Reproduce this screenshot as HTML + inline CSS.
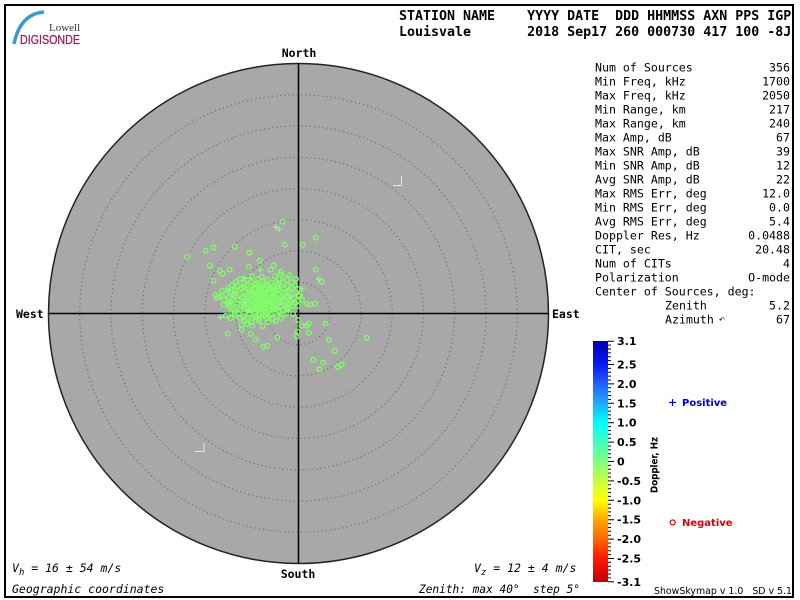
<!DOCTYPE html>
<html>
<head>
<meta charset="utf-8">
<style>
  html,body{margin:0;padding:0;background:#fff;}
  svg{display:block;}
  .mono{font-family:"DejaVu Sans Mono","Liberation Mono",monospace;}
  .sans{font-family:"DejaVu Sans","Liberation Sans",sans-serif;}
</style>
</head>
<body>
<svg width="800" height="600" viewBox="0 0 800 600" xmlns="http://www.w3.org/2000/svg">
  <defs>
    <linearGradient id="cb" x1="0" y1="0" x2="0" y2="1">
      <stop offset="0" stop-color="#0000a8"/>
      <stop offset="0.097" stop-color="#0818f8"/>
      <stop offset="0.177" stop-color="#2060ff"/>
      <stop offset="0.258" stop-color="#20a8ff"/>
      <stop offset="0.339" stop-color="#00ffff"/>
      <stop offset="0.419" stop-color="#40ffc0"/>
      <stop offset="0.5" stop-color="#80ff80"/>
      <stop offset="0.581" stop-color="#c8ff40"/>
      <stop offset="0.661" stop-color="#ffff00"/>
      <stop offset="0.742" stop-color="#ffa800"/>
      <stop offset="0.823" stop-color="#ff6400"/>
      <stop offset="0.903" stop-color="#ff1800"/>
      <stop offset="1" stop-color="#c00000"/>
    </linearGradient>
  </defs>

  <rect x="0" y="0" width="800" height="600" fill="#fff"/>
  <!-- frame -->
  <rect x="5" y="5" width="788" height="592" fill="none" stroke="#000" stroke-width="2"/>

  <!-- logo -->
  <path d="M44 12 Q20 14 14 44" fill="none" stroke="#3a9ccc" stroke-width="3.5"/>
  <text x="49" y="31" font-family="'Liberation Serif',serif" font-size="11" fill="#333">Lowell</text>
  <text x="20" y="44" font-family="'Liberation Sans',sans-serif" font-size="13" fill="#9c1f5a" stroke="#9c1f5a" stroke-width="0.3" textLength="60" lengthAdjust="spacingAndGlyphs">DIGISONDE</text>

  <!-- header -->
  <text class="mono" x="399" y="20" font-size="13.3" font-weight="bold" xml:space="preserve">STATION NAME    YYYY DATE  DDD HHMMSS AXN PPS IGP</text>
  <text class="mono" x="399" y="36" font-size="13.3" font-weight="bold" xml:space="preserve">Louisvale       2018 Sep17 260 000730 417 100 -8J</text>

  <!-- sky map -->
  <circle cx="298.5" cy="313.5" r="250" fill="#a8a8a8" stroke="#222" stroke-width="1.5"/>
  <g fill="none" stroke="#6e6e6e" stroke-width="1.1" stroke-dasharray="1.2 3">
    <circle cx="298.5" cy="313.5" r="31.25"/>
    <circle cx="298.5" cy="313.5" r="62.5"/>
    <circle cx="298.5" cy="313.5" r="93.75"/>
    <circle cx="298.5" cy="313.5" r="125"/>
    <circle cx="298.5" cy="313.5" r="156.25"/>
    <circle cx="298.5" cy="313.5" r="187.5"/>
    <circle cx="298.5" cy="313.5" r="218.75"/>
  </g>
  <line x1="298.5" y1="63.5" x2="298.5" y2="563.5" stroke="#000" stroke-width="1.5"/>
  <line x1="48.5" y1="313.5" x2="548.5" y2="313.5" stroke="#000" stroke-width="1.5"/>

  <!-- small marks -->
  <path d="M401.5 176 V185.5 H393" fill="none" stroke="#e8e8e8" stroke-width="1"/>
  <path d="M204 443 V451.5 H195" fill="none" stroke="#e8e8e8" stroke-width="1"/>

  <!-- cardinal labels -->
  <text class="mono" x="299" y="57" font-size="11.5" font-weight="bold" text-anchor="middle">North</text>
  <text class="mono" x="298" y="578" font-size="11.5" font-weight="bold" text-anchor="middle">South</text>
  <text class="mono" x="16" y="318" font-size="11.5" font-weight="bold">West</text>
  <text class="mono" x="552" y="318" font-size="11.5" font-weight="bold">East</text>

  <!-- data points: circles -->
  <g fill="none" stroke="#80ff66" stroke-width="1.3">
    <circle cx="282.7" cy="221.7" r="2.3"/>
    <circle cx="315.7" cy="237.7" r="2.3"/>
    <circle cx="284.7" cy="244.7" r="2.3"/>
    <circle cx="302.7" cy="244.7" r="2.3"/>
    <circle cx="187.3" cy="256.7" r="2.3"/>
    <circle cx="205.7" cy="250.7" r="2.3"/>
    <circle cx="213.7" cy="247.7" r="2.3"/>
    <circle cx="234.7" cy="246.7" r="2.3"/>
    <circle cx="249.7" cy="252.7" r="2.3"/>
    <circle cx="259.7" cy="260.7" r="2.3"/>
    <circle cx="209.7" cy="265.7" r="2.3"/>
    <circle cx="219.7" cy="270.7" r="2.3"/>
    <circle cx="222.7" cy="273.7" r="2.3"/>
    <circle cx="229.7" cy="269.7" r="2.3"/>
    <circle cx="248.7" cy="266.7" r="2.3"/>
    <circle cx="273.7" cy="265.7" r="2.3"/>
    <circle cx="270.7" cy="269.7" r="2.3"/>
    <circle cx="280.7" cy="271.7" r="2.3"/>
    <circle cx="280.7" cy="274.7" r="2.3"/>
    <circle cx="315.7" cy="269.7" r="2.3"/>
    <circle cx="213.7" cy="280.7" r="2.3"/>
    <circle cx="321.7" cy="281.7" r="2.3"/>
    <circle cx="215.3" cy="294.7" r="2.3"/>
    <circle cx="216.7" cy="297.7" r="2.3"/>
    <circle cx="221.7" cy="295.7" r="2.3"/>
    <circle cx="227.7" cy="290.7" r="2.3"/>
    <circle cx="234.7" cy="290.7" r="2.3"/>
    <circle cx="223.7" cy="304.7" r="2.3"/>
    <circle cx="228.7" cy="303.7" r="2.3"/>
    <circle cx="315" cy="303.7" r="2.3"/>
    <circle cx="306.7" cy="303.7" r="2.3"/>
    <circle cx="310" cy="304.7" r="2.3"/>
    <circle cx="225.7" cy="315.7" r="2.3"/>
    <circle cx="230.7" cy="318.3" r="2.3"/>
    <circle cx="234.3" cy="313.7" r="2.3"/>
    <circle cx="241.7" cy="325" r="2.3"/>
    <circle cx="241.7" cy="329.7" r="2.3"/>
    <circle cx="246.7" cy="324" r="2.3"/>
    <circle cx="252.3" cy="325.7" r="2.3"/>
    <circle cx="262.7" cy="326" r="2.3"/>
    <circle cx="227.7" cy="333.7" r="2.3"/>
    <circle cx="250.7" cy="334" r="2.3"/>
    <circle cx="255.7" cy="339.7" r="2.3"/>
    <circle cx="277.3" cy="337.7" r="2.3"/>
    <circle cx="263.7" cy="346.7" r="2.3"/>
    <circle cx="267.3" cy="345.7" r="2.3"/>
    <circle cx="296.7" cy="336.7" r="2.3"/>
    <circle cx="297.7" cy="331.7" r="2.3"/>
    <circle cx="308.7" cy="332.7" r="2.3"/>
    <circle cx="301.3" cy="325.7" r="2.3"/>
    <circle cx="306.7" cy="325.7" r="2.3"/>
    <circle cx="308.7" cy="323.7" r="2.3"/>
    <circle cx="298" cy="320" r="2.3"/>
    <circle cx="325.7" cy="323.7" r="2.3"/>
    <circle cx="328.7" cy="339.7" r="2.3"/>
    <circle cx="366.7" cy="337.7" r="2.3"/>
    <circle cx="334.7" cy="350.7" r="2.3"/>
    <circle cx="313.3" cy="359.7" r="2.3"/>
    <circle cx="323.3" cy="362.7" r="2.3"/>
    <circle cx="319.3" cy="369" r="2.3"/>
    <circle cx="337.7" cy="366.7" r="2.3"/>
    <circle cx="341.7" cy="364.7" r="2.3"/>
    <circle cx="300" cy="296" r="2.3"/>
    <circle cx="302" cy="300" r="2.3"/>
    <circle cx="298" cy="306" r="2.3"/>
    <circle cx="293" cy="314" r="2.3"/>
    <circle cx="288" cy="310" r="2.3" fill="#80ff66"/>
    <!-- dense cluster -->
    <circle cx="252" cy="276" r="2.3"/><circle cx="262" cy="277" r="2.3"/><circle cx="275" cy="276" r="2.3"/><circle cx="284" cy="277" r="2.3"/><circle cx="290" cy="275" r="2.3"/>
    <circle cx="240" cy="279" r="2.3"/><circle cx="248" cy="280" r="2.3"/><circle cx="258" cy="279" r="2.3"/><circle cx="268" cy="280" r="2.3"/><circle cx="279" cy="279" r="2.3"/><circle cx="287" cy="280" r="2.3"/><circle cx="296" cy="279" r="2.3"/>
    <circle cx="236" cy="282" r="2.3"/><circle cx="244" cy="283" r="2.3"/><circle cx="251" cy="282" r="2.3"/><circle cx="257" cy="283" r="2.3"/><circle cx="264" cy="282" r="2.3"/><circle cx="271" cy="283" r="2.3"/><circle cx="276" cy="282" r="2.3"/><circle cx="283" cy="283" r="2.3"/><circle cx="292" cy="282" r="2.3"/>
    <circle cx="232" cy="285" r="2.3"/><circle cx="238" cy="286" r="2.3"/><circle cx="246" cy="285" r="2.3"/><circle cx="253" cy="286" r="2.3"/><circle cx="259" cy="285" r="2.3"/><circle cx="263" cy="286" r="2.3"/><circle cx="268" cy="285" r="2.3"/><circle cx="274" cy="286" r="2.3"/><circle cx="280" cy="285" r="2.3"/><circle cx="288" cy="286" r="2.3"/><circle cx="295" cy="285" r="2.3"/>
    <circle cx="228" cy="288" r="2.3"/><circle cx="235" cy="289" r="2.3"/><circle cx="241" cy="288" r="2.3"/><circle cx="249" cy="289" r="2.3"/><circle cx="255" cy="288" r="2.3"/><circle cx="260" cy="289" r="2.3"/><circle cx="265" cy="288" r="2.3"/><circle cx="270" cy="289" r="2.3"/><circle cx="277" cy="288" r="2.3"/><circle cx="284" cy="289" r="2.3"/><circle cx="291" cy="288" r="2.3"/><circle cx="298" cy="289" r="2.3"/>
    <circle cx="222" cy="291" r="2.3"/><circle cx="231" cy="292" r="2.3"/><circle cx="238" cy="291" r="2.3"/><circle cx="244" cy="292" r="2.3"/><circle cx="250" cy="291" r="2.3"/><circle cx="254" cy="292" r="2.3"/><circle cx="258" cy="291" r="2.3"/><circle cx="262" cy="292" r="2.3"/><circle cx="267" cy="291" r="2.3"/><circle cx="272" cy="292" r="2.3"/><circle cx="276" cy="291" r="2.3"/><circle cx="282" cy="292" r="2.3"/><circle cx="289" cy="291" r="2.3"/><circle cx="296" cy="292" r="2.3"/>
    <circle cx="226" cy="294" r="2.3"/><circle cx="234" cy="295" r="2.3"/><circle cx="240" cy="294" r="2.3"/><circle cx="246" cy="295" r="2.3"/><circle cx="251" cy="294" r="2.3"/><circle cx="256" cy="295" r="2.3"/><circle cx="260" cy="294" r="2.3"/><circle cx="264" cy="295" r="2.3"/><circle cx="268" cy="294" r="2.3"/><circle cx="273" cy="295" r="2.3"/><circle cx="279" cy="294" r="2.3"/><circle cx="285" cy="295" r="2.3"/><circle cx="292" cy="294" r="2.3"/><circle cx="299" cy="295" r="2.3"/>
    <circle cx="219" cy="297" r="2.3"/><circle cx="229" cy="298" r="2.3"/><circle cx="236" cy="297" r="2.3"/><circle cx="243" cy="298" r="2.3"/><circle cx="248" cy="297" r="2.3"/><circle cx="253" cy="298" r="2.3"/><circle cx="257" cy="297" r="2.3"/><circle cx="261" cy="298" r="2.3"/><circle cx="265" cy="297" r="2.3"/><circle cx="270" cy="298" r="2.3"/><circle cx="275" cy="297" r="2.3"/><circle cx="281" cy="298" r="2.3"/><circle cx="287" cy="297" r="2.3"/><circle cx="294" cy="298" r="2.3"/>
    <circle cx="224" cy="300" r="2.3"/><circle cx="231" cy="301" r="2.3"/><circle cx="238" cy="300" r="2.3"/><circle cx="245" cy="301" r="2.3"/><circle cx="250" cy="300" r="2.3"/><circle cx="255" cy="301" r="2.3"/><circle cx="259" cy="300" r="2.3"/><circle cx="263" cy="301" r="2.3"/><circle cx="268" cy="300" r="2.3"/><circle cx="272" cy="301" r="2.3"/><circle cx="278" cy="300" r="2.3"/><circle cx="284" cy="301" r="2.3"/><circle cx="290" cy="300" r="2.3"/><circle cx="297" cy="301" r="2.3"/>
    <circle cx="230" cy="303" r="2.3"/><circle cx="237" cy="304" r="2.3"/><circle cx="243" cy="303" r="2.3"/><circle cx="249" cy="304" r="2.3"/><circle cx="254" cy="303" r="2.3"/><circle cx="258" cy="304" r="2.3"/><circle cx="262" cy="303" r="2.3"/><circle cx="267" cy="304" r="2.3"/><circle cx="271" cy="303" r="2.3"/><circle cx="276" cy="304" r="2.3"/><circle cx="282" cy="303" r="2.3"/><circle cx="288" cy="304" r="2.3"/><circle cx="295" cy="303" r="2.3"/>
    <circle cx="228" cy="306" r="2.3"/><circle cx="235" cy="307" r="2.3"/><circle cx="241" cy="306" r="2.3"/><circle cx="247" cy="307" r="2.3"/><circle cx="252" cy="306" r="2.3"/><circle cx="257" cy="307" r="2.3"/><circle cx="261" cy="306" r="2.3"/><circle cx="266" cy="307" r="2.3"/><circle cx="270" cy="306" r="2.3"/><circle cx="275" cy="307" r="2.3"/><circle cx="281" cy="306" r="2.3"/><circle cx="287" cy="307" r="2.3"/><circle cx="293" cy="306" r="2.3"/>
    <circle cx="233" cy="309" r="2.3"/><circle cx="240" cy="310" r="2.3"/><circle cx="246" cy="309" r="2.3"/><circle cx="251" cy="310" r="2.3"/><circle cx="256" cy="309" r="2.3"/><circle cx="260" cy="310" r="2.3"/><circle cx="265" cy="309" r="2.3"/><circle cx="270" cy="310" r="2.3"/><circle cx="276" cy="309" r="2.3"/><circle cx="283" cy="310" r="2.3"/>
    <circle cx="231" cy="312" r="2.3"/><circle cx="238" cy="313" r="2.3"/><circle cx="244" cy="312" r="2.3"/><circle cx="250" cy="313" r="2.3"/><circle cx="256" cy="312" r="2.3"/><circle cx="261" cy="313" r="2.3"/><circle cx="266" cy="312" r="2.3"/><circle cx="272" cy="313" r="2.3"/><circle cx="279" cy="312" r="2.3"/><circle cx="286" cy="313" r="2.3"/>
    <circle cx="236" cy="315" r="2.3"/><circle cx="243" cy="316" r="2.3"/><circle cx="249" cy="315" r="2.3"/><circle cx="255" cy="316" r="2.3"/><circle cx="260" cy="315" r="2.3"/><circle cx="265" cy="316" r="2.3"/><circle cx="271" cy="315" r="2.3"/><circle cx="277" cy="316" r="2.3"/><circle cx="284" cy="315" r="2.3"/>
    <circle cx="240" cy="318" r="2.3"/><circle cx="247" cy="319" r="2.3"/><circle cx="253" cy="318" r="2.3"/><circle cx="259" cy="319" r="2.3"/><circle cx="266" cy="318" r="2.3"/><circle cx="273" cy="319" r="2.3"/><circle cx="281" cy="318" r="2.3"/>
    <circle cx="245" cy="321" r="2.3"/><circle cx="252" cy="322" r="2.3"/><circle cx="259" cy="321" r="2.3"/><circle cx="268" cy="322" r="2.3"/><circle cx="276" cy="321" r="2.3"/>
    <!-- extra core density -->
    <circle cx="255" cy="284" r="2.3"/><circle cx="261" cy="287" r="2.3"/><circle cx="266" cy="284" r="2.3"/><circle cx="272" cy="287" r="2.3"/><circle cx="278" cy="284" r="2.3"/>
    <circle cx="252" cy="290" r="2.3"/><circle cx="256" cy="293" r="2.3"/><circle cx="260" cy="290" r="2.3"/><circle cx="264" cy="293" r="2.3"/><circle cx="269" cy="290" r="2.3"/><circle cx="274" cy="293" r="2.3"/><circle cx="279" cy="290" r="2.3"/>
    <circle cx="250" cy="296" r="2.3"/><circle cx="254" cy="299" r="2.3"/><circle cx="258" cy="296" r="2.3"/><circle cx="262" cy="299" r="2.3"/><circle cx="266" cy="296" r="2.3"/><circle cx="270" cy="299" r="2.3"/><circle cx="274" cy="296" r="2.3"/><circle cx="279" cy="299" r="2.3"/><circle cx="284" cy="297" r="2.3"/>
    <circle cx="251" cy="302" r="2.3"/><circle cx="256" cy="305" r="2.3"/><circle cx="260" cy="302" r="2.3"/><circle cx="264" cy="305" r="2.3"/><circle cx="269" cy="302" r="2.3"/><circle cx="273" cy="305" r="2.3"/><circle cx="279" cy="302" r="2.3"/><circle cx="285" cy="305" r="2.3"/>
    <circle cx="253" cy="308" r="2.3"/><circle cx="258" cy="311" r="2.3"/><circle cx="263" cy="308" r="2.3"/><circle cx="268" cy="311" r="2.3"/><circle cx="273" cy="308" r="2.3"/><circle cx="279" cy="311" r="2.3"/>
    <circle cx="244" cy="287" r="2.3"/><circle cx="242" cy="297" r="2.3"/><circle cx="244" cy="306" r="2.3"/><circle cx="286" cy="292" r="2.3"/><circle cx="291" cy="302" r="2.3"/>
    <circle cx="263" cy="314" r="2.3"/><circle cx="269" cy="316" r="2.3"/><circle cx="256" cy="317" r="2.3"/>
  </g>
  <!-- data points: plus markers -->
  <g fill="none" stroke="#8cff8c" stroke-width="1.1">
    <path d="M272.7 227.3h6M275.7 224.3v6"/>
    <path d="M276.3 229.3h6M279.3 226.3v6"/>
    <path d="M241.3 277.7h6M244.3 274.7v6"/>
    <path d="M257.3 270h6M260.3 267v6"/>
    <path d="M315.3 279h6M318.3 276v6"/>
    <path d="M229.3 294h6M232.3 291v6"/>
    <path d="M299 289h6M302 286v6"/>
    <path d="M217.3 317.3h6M220.3 314.3v6"/>
    <path d="M242 302h6M245 299v6"/>
    <path d="M288 297h6M291 294v6"/>
    <path d="M246 310h6M249 307v6"/>
  </g>

  <!-- stats -->
  <g class="mono" font-size="11.6" fill="#000">
    <text x="595" y="71.5">Num of Sources</text><text x="790" y="71.5" text-anchor="end">356</text>
    <text x="595" y="85.5">Min Freq, kHz</text><text x="790" y="85.5" text-anchor="end">1700</text>
    <text x="595" y="99.5">Max Freq, kHz</text><text x="790" y="99.5" text-anchor="end">2050</text>
    <text x="595" y="113.5">Min Range, km</text><text x="790" y="113.5" text-anchor="end">217</text>
    <text x="595" y="127.5">Max Range, km</text><text x="790" y="127.5" text-anchor="end">240</text>
    <text x="595" y="141.5">Max Amp, dB</text><text x="790" y="141.5" text-anchor="end">67</text>
    <text x="595" y="155.5">Max SNR Amp, dB</text><text x="790" y="155.5" text-anchor="end">39</text>
    <text x="595" y="169.5">Min SNR Amp, dB</text><text x="790" y="169.5" text-anchor="end">12</text>
    <text x="595" y="183.5">Avg SNR Amp, dB</text><text x="790" y="183.5" text-anchor="end">22</text>
    <text x="595" y="197.5">Max RMS Err, deg</text><text x="790" y="197.5" text-anchor="end">12.0</text>
    <text x="595" y="211.5">Min RMS Err, deg</text><text x="790" y="211.5" text-anchor="end">0.0</text>
    <text x="595" y="225.5">Avg RMS Err, deg</text><text x="790" y="225.5" text-anchor="end">5.4</text>
    <text x="595" y="239.5">Doppler Res, Hz</text><text x="790" y="239.5" text-anchor="end">0.0488</text>
    <text x="595" y="253.5">CIT, sec</text><text x="790" y="253.5" text-anchor="end">20.48</text>
    <text x="595" y="267.5">Num of CITs</text><text x="790" y="267.5" text-anchor="end">4</text>
    <text x="595" y="281.5">Polarization</text><text x="790" y="281.5" text-anchor="end">O-mode</text>
    <text x="595" y="295.5">Center of Sources, deg:</text>
    <text x="665" y="309.5">Zenith</text><text x="790" y="309.5" text-anchor="end">5.2</text>
    <text x="665" y="323.5">Azimuth</text><text x="790" y="323.5" text-anchor="end">67</text>
  </g>
  <text x="719" y="322" font-family="'DejaVu Sans',sans-serif" font-size="7" fill="#000">↶</text>

  <!-- colorbar -->
  <rect x="593" y="341" width="15" height="241" fill="url(#cb)"/>
  <path fill="none" stroke="#000" stroke-width="1" d="
M608 341.2h6M608 345.1h3M608 349.0h3M608 352.9h3M608 356.7h3M608 360.6h3
M608 364.5h6M608 368.4h3M608 372.3h3M608 376.1h3M608 380.0h3
M608 383.9h6M608 387.8h3M608 391.7h3M608 395.5h3M608 399.4h3
M608 403.3h6M608 407.2h3M608 411.1h3M608 414.9h3M608 418.8h3
M608 422.7h6M608 426.6h3M608 430.5h3M608 434.3h3M608 438.2h3
M608 442.1h6M608 446.0h3M608 449.9h3M608 453.7h3M608 457.6h3
M608 461.5h6M608 465.4h3M608 469.3h3M608 473.1h3M608 477.0h3
M608 480.9h6M608 484.8h3M608 488.7h3M608 492.5h3M608 496.4h3
M608 500.3h6M608 504.2h3M608 508.1h3M608 511.9h3M608 515.8h3
M608 519.7h6M608 523.6h3M608 527.5h3M608 531.3h3M608 535.2h3
M608 539.1h6M608 543.0h3M608 546.9h3M608 550.7h3M608 554.6h3
M608 558.5h6M608 562.4h3M608 566.3h3M608 570.1h3M608 574.0h3M608 577.9h3
M608 581.8h6"/>
  <g class="sans" font-size="11" font-weight="bold" fill="#000">
    <text x="617" y="345.2">3.1</text>
    <text x="617" y="368.5">2.5</text>
    <text x="617" y="387.9">2.0</text>
    <text x="617" y="407.3">1.5</text>
    <text x="617" y="426.7">1.0</text>
    <text x="617" y="446.1">0.5</text>
    <text x="617" y="465.5">0</text>
    <text x="617" y="484.9">-0.5</text>
    <text x="617" y="504.3">-1.0</text>
    <text x="617" y="523.7">-1.5</text>
    <text x="617" y="543.1">-2.0</text>
    <text x="617" y="562.5">-2.5</text>
    <text x="617" y="585.8">-3.1</text>
  </g>
  <text class="sans" transform="translate(657.5,465) rotate(-90)" font-size="9.5" font-weight="bold" text-anchor="middle" textLength="56" lengthAdjust="spacingAndGlyphs">Doppler, Hz</text>

  <!-- legend -->
  <path d="M669 402.5h7M672.5 399v7" stroke="#0000e0" stroke-width="1.2" fill="none"/>
  <text class="sans" x="682" y="406" font-size="10" font-weight="bold" fill="#0000e0">Positive</text>
  <circle cx="672.7" cy="522.5" r="2.5" fill="none" stroke="#e00000" stroke-width="1.2"/>
  <text class="sans" x="682" y="526" font-size="10" font-weight="bold" fill="#e00000">Negative</text>

  <text class="sans" x="654" y="594" font-size="9.5" fill="#000" textLength="138" lengthAdjust="spacingAndGlyphs" xml:space="preserve">ShowSkymap v 1.0   SD v 5.1</text>

  <!-- bottom annotations -->
  <g class="mono" font-size="11.5" font-style="italic" fill="#000">
    <text x="12" y="572" xml:space="preserve">V<tspan font-size="9" dy="3">h</tspan><tspan dy="-3"> = 16 ± 54 m/s</tspan></text>
    <text x="12" y="593">Geographic coordinates</text>
    <text x="474" y="572" xml:space="preserve">V<tspan font-size="9" dy="3">z</tspan><tspan dy="-3"> = 12 ± 4 m/s</tspan></text>
    <text x="419" y="593" xml:space="preserve" textLength="161" lengthAdjust="spacingAndGlyphs">Zenith: max 40°  step 5°</text>
  </g>
</svg>
</body>
</html>
